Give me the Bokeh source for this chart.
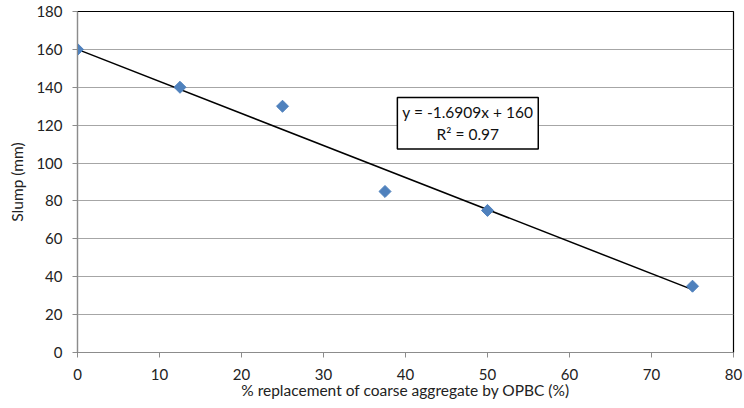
import math
from bokeh.plotting import figure
from bokeh.models import Label, FixedTicker
from bokeh.embed import file_html
from bokeh.resources import INLINE

# data
replacement = [0, 12.5, 25, 37.5, 50, 75]
slump = [160, 140, 130, 85, 75, 35]
slope = -1.6909
intercept = 160
r2 = 0.97
x_ticks = [0, 10, 20, 30, 40, 50, 60, 70, 80]
y_ticks = [0, 20, 40, 60, 80, 100, 120, 140, 160, 180]

FONT = "Lato"
GREY = "#8c8c8c"

p = figure(width=744, height=408, x_range=(0, 80), y_range=(0, 180),
           output_backend="svg", toolbar_location=None,
           min_border_left=77, min_border_right=11, min_border_top=11, min_border_bottom=56)

p.outline_line_color = "black"
p.outline_line_width = 1.2

p.xaxis.ticker = FixedTicker(ticks=x_ticks)
p.yaxis.ticker = FixedTicker(ticks=y_ticks)
p.xaxis.axis_label = "% replacement of coarse aggregate by OPBC (%)"
p.yaxis.axis_label = "Slump (mm)"
for ax in (p.xaxis, p.yaxis):
    ax.axis_line_color = GREY
    ax.major_tick_line_color = GREY
    ax.minor_tick_line_color = None
    ax.major_tick_in = 0
    ax.major_label_text_font = FONT
    ax.major_label_text_font_size = "15px"
    ax.major_label_text_color = "#222222"
    ax.axis_label_text_font = FONT
    ax.axis_label_text_font_size = "15.5px"
    ax.axis_label_text_font_style = "normal"
    ax.axis_label_text_color = "#222222"
p.xaxis.major_tick_out = 5
p.yaxis.major_tick_out = 5
p.xaxis.major_label_standoff = 11
p.yaxis.major_label_standoff = 10
p.xaxis.axis_label_standoff = -2
p.yaxis.axis_label_standoff = 7

p.xgrid.grid_line_color = None
p.ygrid.grid_line_color = "#a6a6a6"
p.ygrid.grid_line_width = 1

# trendline
x0, x1 = min(replacement), max(replacement)
p.line([x0, x1], [slope * x0 + intercept, slope * x1 + intercept],
       line_color="black", line_width=1.5)

# points
p.scatter(replacement, slump, marker="square", angle=math.pi / 4, size=8.5,
          fill_color="#4F81BD", line_color="#4F81BD")

eq = Label(x=47.6, y=121,
           text=f"y = {slope}x + {intercept}\nR\u00b2 = {r2}",
           text_align="center", text_baseline="middle",
           text_font=FONT, text_font_size="15.5px", text_color="#111111",
           background_fill_color="white", border_line_color="black",
           border_line_width=1.5, padding=[5, 6])
p.add_layout(eq)

open("out.html", "w").write(file_html(p, INLINE))
